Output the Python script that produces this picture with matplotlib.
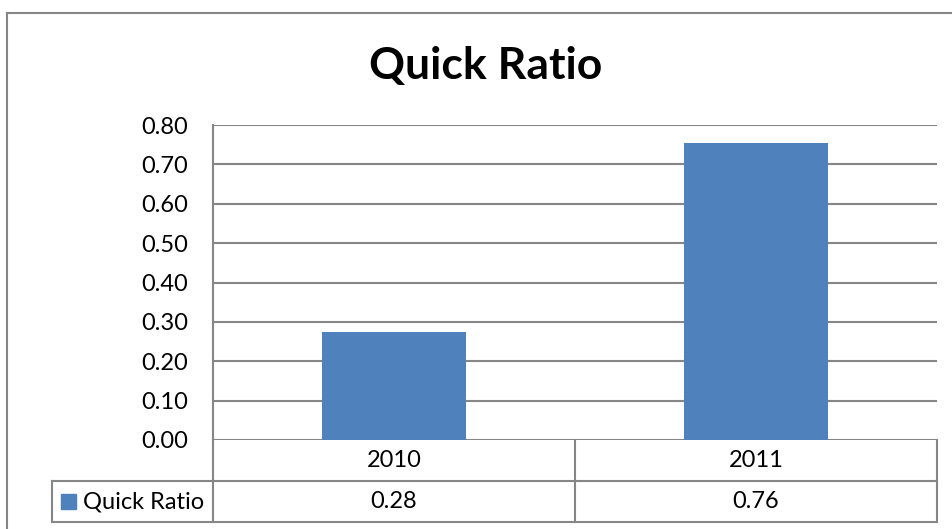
import matplotlib.pyplot as plt
from matplotlib.lines import Line2D
from matplotlib.patches import Rectangle
import numpy as np

# data
years = ['2010', '2011']
quick_ratio = [0.275, 0.755]
quick_labels = ['0.28', '0.76']
yticks = [0.0, 0.1, 0.2, 0.3, 0.4, 0.5, 0.6, 0.7, 0.8]

plt.rcParams['font.family'] = ['Lato', 'DejaVu Sans']

W, H = 953, 529
fig = plt.figure(figsize=(W / 100, H / 100), dpi=100)

grey = '#868686'
blue = '#4F81BD'
fs = 17

# outer chart frame (cut off on right/bottom)
fig.add_artist(Line2D([7 / W, 7 / W], [0, 1 - 13 / H], transform=fig.transFigure, color=grey, lw=1.5))
fig.add_artist(Line2D([7 / W, 1], [1 - 13 / H, 1 - 13 / H], transform=fig.transFigure, color=grey, lw=1.5))

# plot area in pixels
left, right, top, bottom = 213, 937, 125, 440
ax = fig.add_axes([left / W, 1 - bottom / H, (right - left) / W, (bottom - top) / H])

x = np.arange(len(years))
ax.bar(x, quick_ratio, width=0.4, color=blue, zorder=3)
ax.set_xlim(-0.5, len(years) - 0.5)
ax.set_ylim(0, 0.8)
ax.set_yticks(yticks)
ax.set_yticklabels(['%.2f' % t for t in yticks], fontsize=fs)
ax.set_xticks([])
ax.tick_params(axis='y', length=0, pad=18)
for yt in yticks:
    ax.axhline(yt, color=grey, lw=1.5, zorder=1)
for s in ['top', 'right', 'bottom']:
    ax.spines[s].set_visible(False)
ax.spines['left'].set_color(grey)
ax.spines['left'].set_linewidth(1.5)

# title centred on the whole chart
fig.text(486 / W, 1 - 66 / H, 'Quick Ratio', fontsize=32, fontweight='bold', ha='center', va='center')

# data table below the plot
row_h = 41 / (bottom - top)
legend_left = (52 - left) / (right - left)
trans_ax = ax.transAxes
trans_mix = ax.get_xaxis_transform()
kw = dict(color=grey, lw=1.5, clip_on=False)

ax.add_line(Line2D([0, 0], [0, -2 * row_h], transform=trans_ax, **kw))
ax.add_line(Line2D([1, 1], [0, -2 * row_h], transform=trans_ax, **kw))
ax.add_line(Line2D([legend_left, 1], [-row_h, -row_h], transform=trans_ax, **kw))
ax.add_line(Line2D([legend_left, 1], [-2 * row_h, -2 * row_h], transform=trans_ax, **kw))
ax.add_line(Line2D([legend_left, legend_left], [-row_h, -2 * row_h], transform=trans_ax, **kw))
for i in range(1, len(years)):
    ax.add_line(Line2D([i - 0.5, i - 0.5], [0, -2 * row_h], transform=trans_mix, **kw))

for i, (yr, lab) in enumerate(zip(years, quick_labels)):
    ax.text(i, -0.5 * row_h, yr, transform=trans_mix, ha='center', va='center', fontsize=fs)
    ax.text(i, -1.5 * row_h, lab, transform=trans_mix, ha='center', va='center', fontsize=fs)

# legend key inside the table
key_w = 15 / (right - left)
key_h = 15 / (bottom - top)
kx = (61 - left) / (right - left)
ax.add_patch(Rectangle((kx, -1.5 * row_h - key_h / 2), key_w, key_h, transform=trans_ax,
                       color=blue, clip_on=False))
ax.text((83 - left) / (right - left), -1.5 * row_h, 'Quick Ratio', transform=trans_ax,
        ha='left', va='center', fontsize=fs)

fig.savefig('out.png', dpi=100)
